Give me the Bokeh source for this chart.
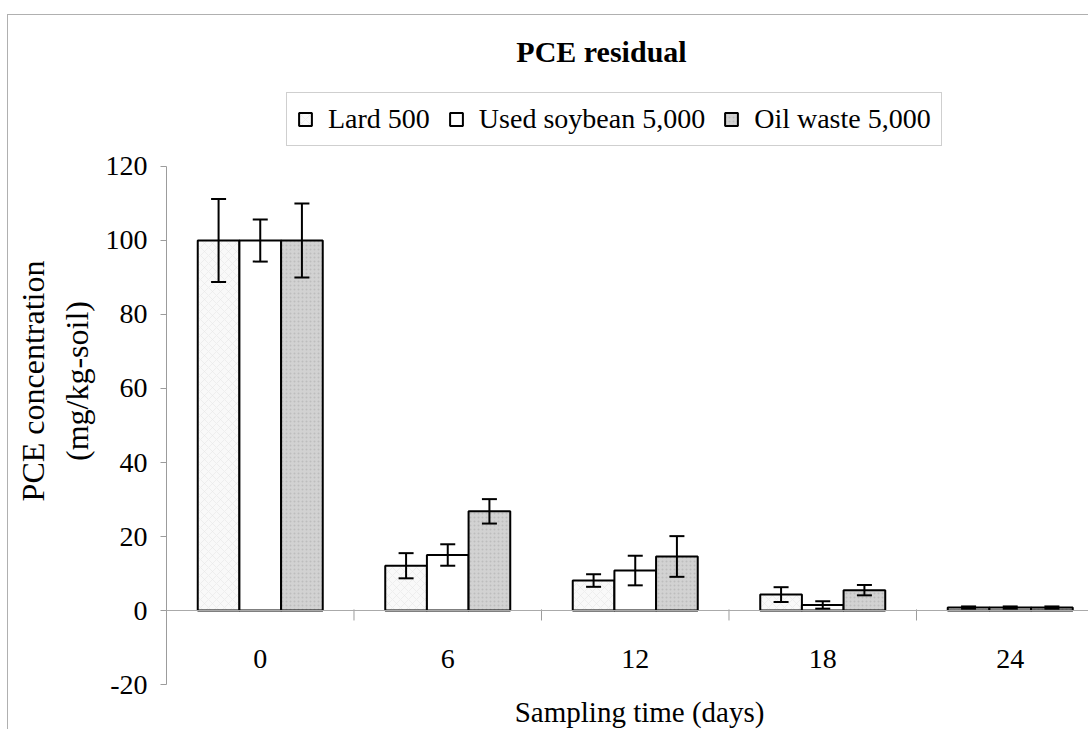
from bokeh.plotting import figure
from bokeh.models import (ColumnDataSource, Whisker, TeeHead, Span, Label, Legend,
                          LegendItem, FixedTicker, Range1d)
from bokeh.core.properties import value
from bokeh.embed import file_html
from bokeh.resources import INLINE

# Sampling days and PCE residual (mg/kg-soil), mean and error per treatment
days = ["0", "6", "12", "18", "24"]
lard = [100, 12.1, 8.1, 4.3, 0.8]
lard_err = [11.2, 3.4, 1.7, 2.0, 0.3]
soy = [100, 15.0, 10.8, 1.5, 0.8]
soy_err = [5.7, 2.9, 4.0, 1.0, 0.3]
oil = [100, 26.8, 14.6, 5.5, 0.8]
oil_err = [10.0, 3.3, 5.5, 1.4, 0.3]

series_names = ["Lard 500", "Used soybean 5,000", "Oil waste 5,000"]
y_ticks = [-20, 0, 20, 40, 60, 80, 100, 120]

FONT = "Liberation Serif"
GRAY = "#9c9c9c"

# the frame reaches above and below the value axis so that the title,
# legend and category texts sit inside it; the axis itself is bounded
p = figure(width=1081, height=715, output_backend="svg", toolbar_location=None,
           x_range=Range1d(-0.5, 4.4227), y_range=Range1d(-32.432, 156.486),
           x_axis_location=None, min_border_left=158, min_border_right=0,
           min_border_top=16, min_border_bottom=0)
p.margin = (14, 0, 0, 7)
p.styles = {"border-top": "1px solid #b0b0b0", "border-left": "1px solid #b0b0b0"}
p.outline_line_color = None
p.xgrid.visible = False
p.ygrid.visible = False
p.background_fill_color = "white"
p.border_fill_color = "white"

# value axis
ax = p.yaxis[0]
ax.bounds = (-20, 120)
ax.ticker = FixedTicker(ticks=y_ticks)
ax.major_label_overrides = {-20: "-20"}
ax.axis_line_color = GRAY
ax.major_tick_line_color = GRAY
ax.minor_tick_line_color = None
ax.major_tick_out = 6
ax.major_tick_in = 0
ax.major_label_standoff = 13
ax.major_label_text_font = FONT
ax.major_label_text_font_size = "28px"
ax.major_label_text_color = "black"
ax.axis_label = "PCE concentration\n(mg/kg-soil)"
ax.axis_label_text_font = FONT
ax.axis_label_text_font_size = "32px"
ax.axis_label_text_font_style = "normal"
ax.axis_label_text_color = "black"
ax.axis_label_standoff = 8

# category axis line at zero with boundary ticks
p.add_layout(Span(location=0, dimension="width", line_color="#aaaaaa", line_width=1))
bounds = [i + 0.5 for i in range(len(days) - 1)]
p.segment(x0=bounds, x1=bounds, y0=[0.3] * len(bounds), y1=[-2.7] * len(bounds),
          line_color=GRAY, line_width=1)

bw = 1 / 4.5
offsets = [-bw, 0.0, bw]
styles = [
    dict(fill_color="#f9f9f9", hatch_pattern="diagonal_cross", hatch_color="#e6e6e6",
         hatch_scale=8, hatch_weight=0.6),
    dict(fill_color="white"),
    dict(fill_color="#d2d2d2", hatch_pattern="dot", hatch_color="#bdbdbd",
         hatch_scale=4, hatch_weight=0.8),
]
values = [lard, soy, oil]
errors = [lard_err, soy_err, oil_err]

items = []
for name, vals, errs, off, st in zip(series_names, values, errors, offsets, styles):
    xs = [i + off for i in range(len(days))]
    src = ColumnDataSource(dict(
        x=xs, top=vals,
        upper=[v + e for v, e in zip(vals, errs)],
        lower=[v - e for v, e in zip(vals, errs)],
    ))
    r = p.vbar(x="x", top="top", bottom=0, width=bw, source=src,
               line_color="black", line_width=2, **st)
    items.append(LegendItem(label=name, renderers=[r]))
    p.add_layout(Whisker(source=src, base="x", upper="upper", lower="lower",
                         level="annotation", line_color="black", line_width=2,
                         upper_head=TeeHead(size=15, line_width=2, line_color="black"),
                         lower_head=TeeHead(size=15, line_width=2, line_color="black")))

# category labels
p.text(x=list(range(len(days))), y=[-13.0] * len(days), text=days,
       text_font=value(FONT), text_font_size="28px", text_color="black",
       text_align="center", text_baseline="middle")

legend = Legend(items=items, orientation="horizontal", location=(120, 584),
                border_line_color="#a0a0a0", border_line_width=1,
                background_fill_color="white", background_fill_alpha=1.0,
                padding=10, margin=0, spacing=18, label_standoff=15,
                glyph_width=16, glyph_height=16)
legend.label_text_font = FONT
legend.label_text_font_size = "28px"
legend.label_text_color = "black"
p.add_layout(legend, "center")

p.add_layout(Label(x=1.82, y=151.1, text="PCE residual", text_font=FONT,
                   text_font_size="30px", text_font_style="bold", text_color="black",
                   text_align="center", text_baseline="middle"))
p.add_layout(Label(x=2.023, y=-27.3, text="Sampling time (days)", text_font=FONT,
                   text_font_size="29px", text_color="black",
                   text_align="center", text_baseline="middle"))

open("out.html", "w").write(file_html(p, INLINE))
